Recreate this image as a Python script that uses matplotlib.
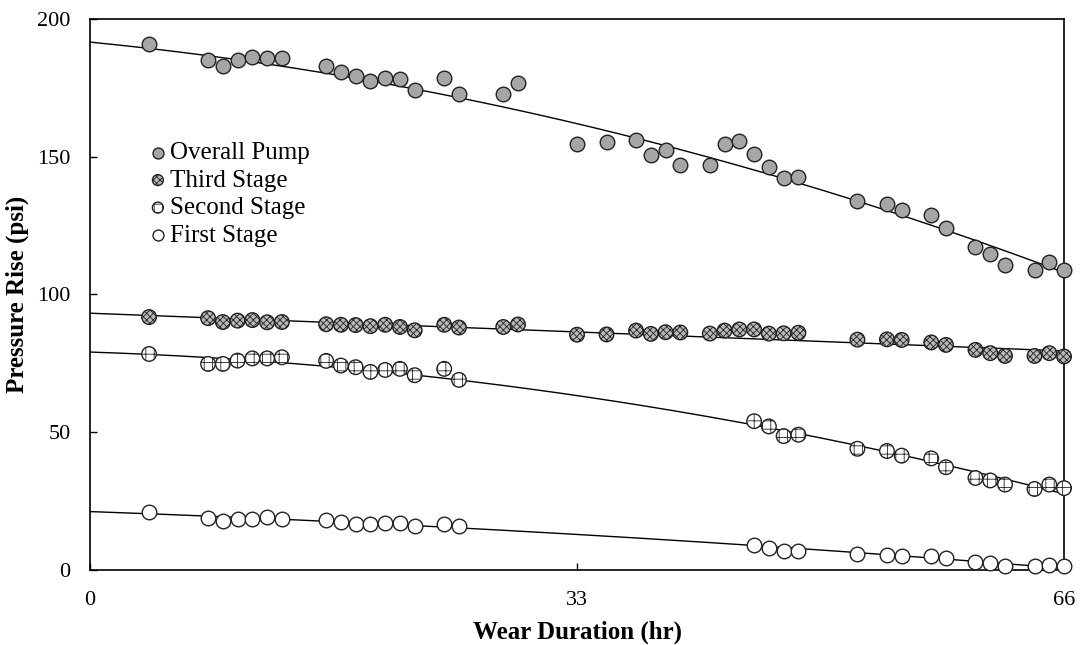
import matplotlib.pyplot as plt
import numpy as np

plt.rcParams['font.family'] = ['Liberation Serif', 'DejaVu Serif']
plt.rcParams['hatch.linewidth'] = 0.6

# wear duration (hr)
t_all = [4, 8, 9, 10, 11, 12, 13, 16, 17, 18, 19, 20, 21, 22, 24, 25, 28, 29,
         33, 35, 37, 38, 39, 40, 42, 43, 44, 45, 46, 47, 48,
         52, 54, 55, 57, 58, 60, 61, 62, 64, 65, 66]
t_stage = [4, 8, 9, 10, 11, 12, 13, 16, 17, 18, 19, 20, 21, 22, 24, 25,
           45, 46, 47, 48, 52, 54, 55, 57, 58, 60, 61, 62, 64, 65, 66]

overall = [191.0, 185.0, 183.1, 185.2, 186.1, 186.0, 185.8, 183.1, 180.8, 179.3,
           177.5, 178.5, 178.1, 174.2, 178.6, 172.8, 172.7, 176.7,
           154.6, 155.2, 156.2, 150.6, 152.3, 146.9, 146.9, 154.5, 155.8, 151.0,
           146.4, 142.1, 142.6, 134.0, 132.7, 130.5, 128.7, 124.0,
           117.2, 114.8, 110.7, 109.0, 111.8, 109.0]
third = [91.8, 91.4, 90.0, 90.5, 90.7, 89.9, 90.0, 89.2, 89.0, 88.9,
         88.5, 89.0, 88.2, 87.0, 89.0, 88.0, 88.2, 89.1,
         85.4, 85.5, 86.9, 85.7, 86.3, 86.2, 85.8, 86.9, 87.3, 87.3,
         85.8, 85.9, 86.1, 83.6, 83.7, 83.5, 82.6, 81.7,
         79.9, 78.7, 77.7, 77.7, 78.7, 77.5]
second = [78.4, 74.8, 74.8, 76.0, 76.8, 76.8, 77.2, 75.9, 74.2, 73.6, 71.9,
          72.6, 73.0, 70.7, 73.0, 69.0,
          54.0, 52.1, 48.6, 49.1, 44.0, 43.2, 41.5, 40.5, 37.3, 33.4,
          32.5, 31.0, 29.4, 31.0, 29.7]
first = [21.0, 18.8, 17.7, 18.4, 18.4, 19.1, 18.4, 18.0, 17.5, 16.8, 16.8,
         16.9, 16.9, 16.0, 16.8, 15.9,
         8.9, 8.1, 7.0, 6.9, 5.8, 5.4, 5.0, 5.1, 4.3, 2.9,
         2.4, 1.5, 1.3, 1.9, 1.3]

# trend line values read at t = 0, 33, 66 (quadratic through them)
trend_t = [0, 33, 66]
trend_overall = [191.6, 162.0, 108.0]
trend_third = [93.2, 86.4, 79.5]
trend_second = [79.1, 63.3, 27.6]
trend_first = [21.2, 12.9, 0.6]

series = [
    ("Overall Pump", t_all, overall, trend_overall, "#a6a6a6", None),
    ("Third Stage", t_all, third, trend_third, "#b8b8b8", "xxxxx"),
    ("Second Stage", t_stage, second, trend_second, "white", "++"),
    ("First Stage", t_stage, first, trend_first, "white", None),
]

fig = plt.figure(figsize=(10.82, 6.45), dpi=100)
ax = fig.add_axes([0.0832, 0.1163, 0.9002, 0.8543])

tt = np.linspace(0, 66, 200)
for label, x, y, tr, fc, hatch in series:
    coef = np.polyfit(trend_t, tr, 2)
    ax.plot(tt, np.polyval(coef, tt), color="black", lw=1.0, zorder=2)
    ax.scatter(x, y, s=110, facecolor=fc, edgecolor="#222222",
               linewidths=1.0, hatch=hatch, zorder=3, clip_on=False,
               label=label)

ax.set_xlim(0, 66)
ax.set_ylim(0, 200)
ax.set_xticks([0, 33, 66])
ax.set_yticks([0, 50, 100, 150, 200])
ax.tick_params(direction="in", length=5, width=1.0, labelsize=16)
ax.tick_params(axis="x", pad=15)
ax.tick_params(axis="y", pad=14)
for sp in ax.spines.values():
    sp.set_linewidth(1.2)

ax.set_xlabel("Wear Duration (hr)", fontsize=18, fontweight="bold", labelpad=8)
ax.set_ylabel("Pressure Rise (psi)", fontsize=18, fontweight="bold", labelpad=6)

ax.legend(loc="upper left", bbox_to_anchor=(0.044, 0.80), frameon=False,
          fontsize=18, markerscale=0.75, handletextpad=0.0, labelspacing=0.2,
          borderpad=0, handlelength=1.0)

fig.savefig("out.png", dpi=100)
